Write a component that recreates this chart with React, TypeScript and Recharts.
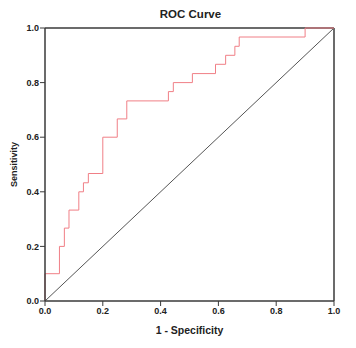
import React from "react";
import { LineChart, Line, XAxis, YAxis, ReferenceLine, Label } from "recharts";

const fpr = [0, 0, 0.05, 0.067, 0.083, 0.117, 0.133, 0.15, 0.2, 0.25, 0.283, 0.427, 0.444, 0.51, 0.59, 0.625, 0.657, 0.672, 0.9, 1];
const tpr = [0, 0.1, 0.2, 0.267, 0.333, 0.4, 0.433, 0.467, 0.6, 0.667, 0.733, 0.767, 0.8, 0.833, 0.867, 0.9, 0.933, 0.967, 1, 1];
const ticks = [0, 0.2, 0.4, 0.6, 0.8, 1];

const data = fpr.map((x, i) => ({ x, y: tpr[i] }));

const frame = "#3a3a3a";
const tickStyle = { fontSize: 9, fontWeight: 700, fill: "#222", fontFamily: "Liberation Sans, Arial, sans-serif" };

export default function App() {
  return (
    <div style={{ position: "absolute", left: 0, top: 0, background: "#fff" }}>
      <div
        style={{
          position: "absolute",
          left: 0,
          top: 8,
          width: 356,
          textAlign: "center",
          paddingLeft: 25,
          boxSizing: "border-box",
          fontFamily: "Liberation Sans, Arial, sans-serif",
          fontSize: 11.5,
          fontWeight: 700,
          color: "#222",
        }}
      >
        ROC Curve
      </div>
      <LineChart width={356} height={348} data={data} margin={{ top: 28, right: 22, left: 0, bottom: 0 }}>
        <XAxis
          type="number"
          dataKey="x"
          domain={[0, 1]}
          ticks={ticks}
          tickFormatter={(v: number) => v.toFixed(1)}
          tick={tickStyle}
          tickSize={5}
          tickMargin={2}
          height={47}
          axisLine={{ stroke: frame, strokeWidth: 1.5 }}
          tickLine={{ stroke: frame }}
        >
          <Label
            value="1 - Specificity"
            position="insideBottom"
            offset={14}
            style={{ fontSize: 10.5, fontWeight: 700, fill: "#222", fontFamily: "Liberation Sans, Arial, sans-serif" }}
          />
        </XAxis>
        <YAxis
          type="number"
          domain={[0, 1]}
          ticks={ticks}
          tickFormatter={(v: number) => v.toFixed(1)}
          tick={tickStyle}
          tickSize={5}
          tickMargin={1}
          width={45}
          axisLine={{ stroke: frame, strokeWidth: 1.5 }}
          tickLine={{ stroke: frame }}
        >
          <Label
            value="Sensitivity"
            angle={-90}
            position="insideLeft"
            offset={14}
            style={{ textAnchor: "middle", fontSize: 9, fontWeight: 700, fill: "#222", fontFamily: "Liberation Sans, Arial, sans-serif" }}
          />
        </YAxis>
        <ReferenceLine y={1} stroke={frame} strokeWidth={1.5} />
        <ReferenceLine x={1} stroke={frame} strokeWidth={1.5} />
        <ReferenceLine segment={[{ x: 0, y: 0 }, { x: 1, y: 1 }]} stroke="#555" strokeWidth={1} />
        <Line
          type="stepAfter"
          dataKey="y"
          stroke="#f07f86"
          strokeWidth={1}
          dot={false}
          isAnimationActive={false}
        />
      </LineChart>
    </div>
  );
}
